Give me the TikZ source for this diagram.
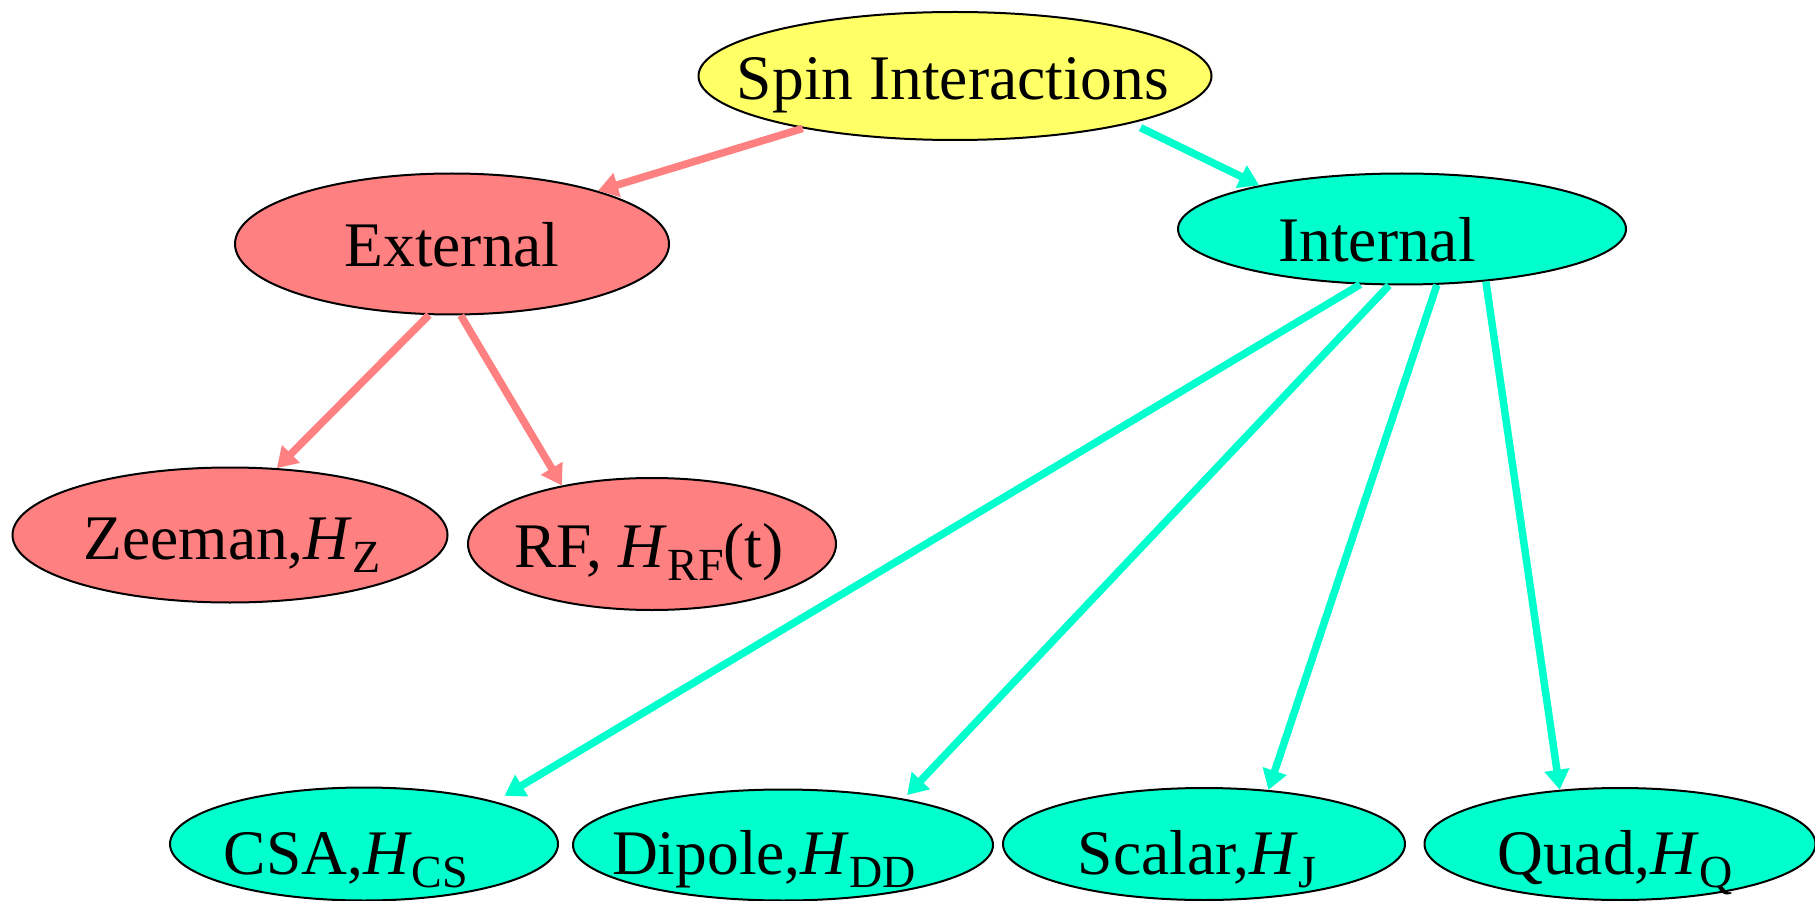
\documentclass[tikz,border=0pt]{standalone}
\usepackage{fontspec}
\setmainfont{Liberation Serif}
\usetikzlibrary{shapes.geometric,arrows.meta}
\definecolor{spinyellow}{RGB}{255,255,102}
\definecolor{extred}{RGB}{255,128,128}
\definecolor{intcyan}{RGB}{0,255,204}
% lowered, smaller subscript for the Hamiltonian labels
\newcommand\hsub[1]{\raisebox{-13pt}{\fontsize{46}{50}\selectfont #1}}
\begin{document}
\begin{tikzpicture}[x=1pt,y=-1pt,
  blob/.style={ellipse, draw=black, line width=2pt, inner sep=0pt},
  lbl/.style={anchor=base, inner sep=0pt, font=\fontsize{63.5}{70}\selectfont},
  link/.style={line width=7.5pt, -{Triangle[length=20pt,width=24pt]}},
  extarrow/.style={link, draw=extred},
  intarrow/.style={link, draw=intcyan}]
\useasboundingbox (0,0) rectangle (1815,901);

% ellipses
\node[blob, fill=spinyellow, minimum width=513pt, minimum height=128pt] (spin) at (955,76) {};
\node[blob, fill=extred, minimum width=434pt, minimum height=141pt] (ext) at (452,244) {};
\node[blob, fill=intcyan, minimum width=448pt, minimum height=111pt] (int) at (1402,229) {};
\node[blob, fill=extred, minimum width=435pt, minimum height=135pt] (zee) at (230,535) {};
\node[blob, fill=extred, minimum width=368pt, minimum height=132pt] (rf) at (652,544) {};
\node[blob, fill=intcyan, minimum width=388pt, minimum height=113pt] (csa) at (364,844) {};
\node[blob, fill=intcyan, minimum width=420pt, minimum height=111pt] (dip) at (783,845) {};
\node[blob, fill=intcyan, minimum width=402pt, minimum height=112pt] (sca) at (1204,844) {};
\node[blob, fill=intcyan, minimum width=391pt, minimum height=112pt] (qua) at (1620,844) {};

% labels
\node[lbl] (spinT) at (953,100) {Spin Interactions};
\node[lbl] (extT) at (452,267) {External};
\node[lbl] (intT) at (1377,262) {Internal};
\node[lbl] (zeeT) at (232,559) {Zeeman,\textit{H}\hsub{Z}};
\node[lbl] (rfT) at (649,567) {RF, \textit{H}\hsub{RF}(t)};
\node[lbl] (csaT) at (346,874) {CSA,\textit{H}\hsub{CS}};
\node[lbl] (dipT) at (764,874) {Dipole,\textit{H}\hsub{DD}};
\node[lbl] (scaT) at (1197,874) {Scalar,\textit{H}\hsub{J}};
\node[lbl] (quaT) at (1615,874) {Quad,\textit{H}\hsub{Q}};

% connectors
\draw[extarrow] (spin.199) -- (ext.20);
\draw[intarrow, shorten <=10pt] (spin.-15) -- (int.163);
\draw[extarrow] (ext.252) -- (zee.55);
\draw[extarrow] (ext.277) -- (rf.147);
\draw[intarrow, shorten >=11pt] (int.233) -- (csa.18);
\draw[intarrow, shorten >=5pt] (int.257) -- (dip.21);
\draw[intarrow] (int.302) -- (sca.40);
\draw[intarrow] (int.328) -- (qua.138);
\end{tikzpicture}
\end{document}
